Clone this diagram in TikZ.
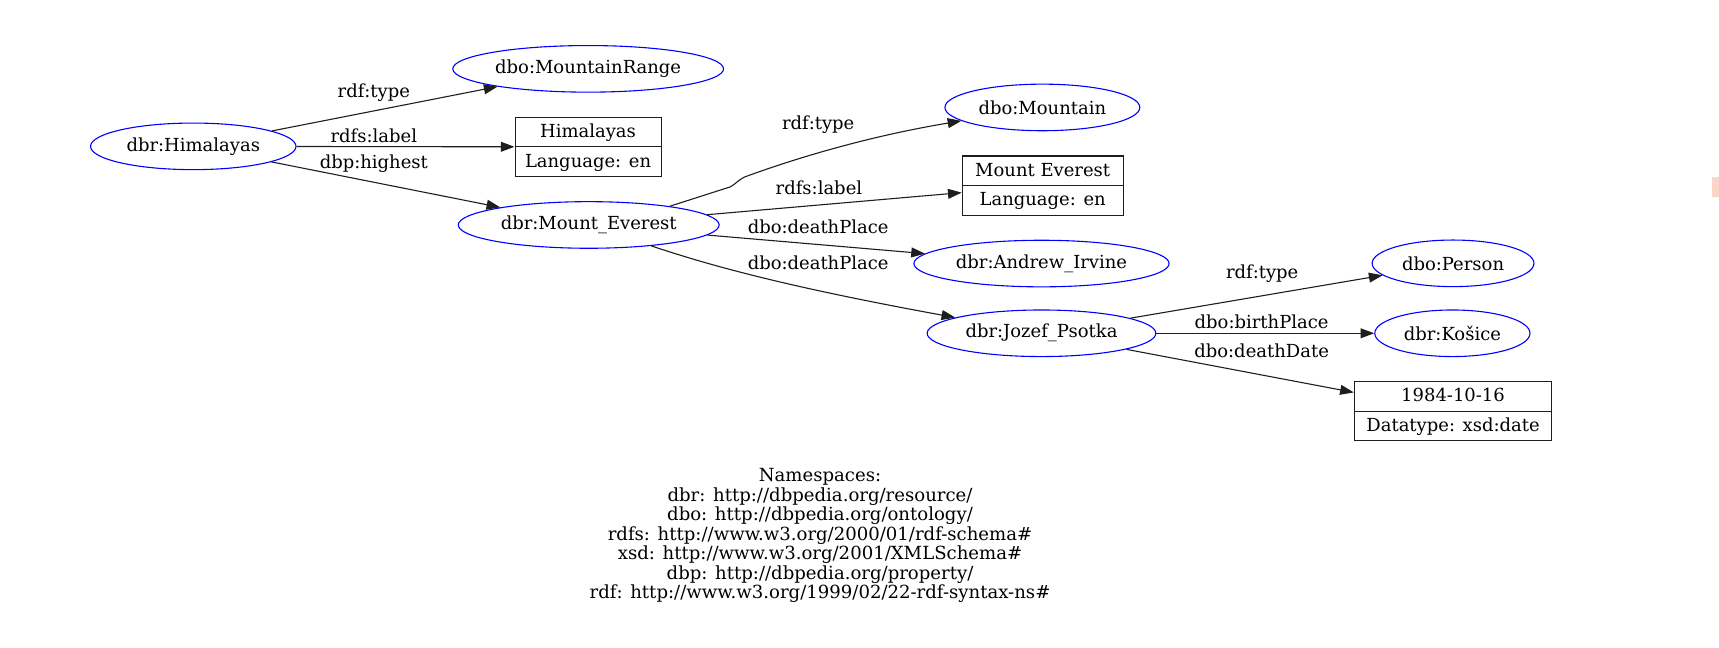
\documentclass[tikz,border=0pt]{standalone}
\usepackage{fontspec}
\setmainfont{DejaVu Serif}
\usetikzlibrary{arrows.meta,shapes.geometric}
\lineskiplimit=-50pt
\definecolor{rblue}{RGB}{0,0,255}
\definecolor{edgegray}{RGB}{30,30,30}
\definecolor{marker}{RGB}{250,214,200}
\begin{document}
\begin{tikzpicture}[x=1pt,y=-1pt,
  font=\fontsize{16.4}{14.8}\selectfont,
  res/.style={draw=rblue, line width=1pt, ellipse, inner sep=0pt, minimum height=42.5pt},
  litbox/.style={draw=edgegray, line width=1pt, rectangle, inner sep=0pt, minimum height=54pt},
  lit/.style={inner sep=0pt, text height=0.75em, text depth=0.24em, yshift=-2.5pt},
  elabel/.style={inner sep=0pt, text height=0.75em, text depth=0.24em, yshift=-3pt},
  rel/.style={draw=edgegray, line width=1pt, -{Triangle[length=12.5pt,width=9pt]}},
]
\useasboundingbox (0,0) rectangle (1568,591);
\fill[white] (0,0) rectangle (1568,591);

% resources
\node[res, minimum width=187.4pt] (hi) at (176.3,133.5) {dbr:Himalayas};
\node[res, minimum width=247pt] (mr) at (536.5,62.8) {dbo:MountainRange};
\node[res, minimum width=238pt] (ev) at (537,205.2) {dbr:Mount\_Everest};
\node[res, minimum width=177.8pt] (mt) at (950.8,98) {dbo:Mountain};
\node[res, minimum width=232.8pt] (ai) at (950,240.4) {dbr:Andrew\_Irvine};
\node[res, minimum width=208.6pt] (jp) at (950,304) {dbr:Jozef\_Psotka};
\node[res, minimum width=147.6pt] (pe) at (1325.4,240.2) {dbo:Person};
\node[res, minimum width=141.6pt] (ko) at (1324.8,304) {dbr:Košice};

% literal boxes
\node[litbox, minimum width=133.2pt] (hb) at (536.4,134) {};
\draw[draw=edgegray, line width=1pt] (hb.west) -- (hb.east);
\node[lit] (hb1) at (536.4,120.5) {Himalayas};
\node[lit] (hb2) at (536.4,147.5) {Language: en};

\node[litbox, minimum width=146.8pt] (mb) at (951.1,169.3) {};
\draw[draw=edgegray, line width=1pt] (mb.west) -- (mb.east);
\node[lit] (mb1) at (951.1,155.8) {Mount Everest};
\node[lit] (mb2) at (951.1,182.8) {Language: en};

\node[litbox, minimum width=180pt] (db) at (1325.4,375) {};
\draw[draw=edgegray, line width=1pt] (db.west) -- (db.east);
\node[lit] (db1) at (1325.4,361.5) {1984-10-16};
\node[lit] (db2) at (1325.4,388.5) {Datatype: xsd:date};

% edges
\draw[rel] (hi) -- (mr);
\draw[rel] (hi) -- (hb);
\draw[rel] (hi) -- (ev);
\draw[rel] (ev.13) -- (666,170.5) .. controls (671,168) and (673,164.5) .. (679,161.5) .. controls (735,141) and (800,123) .. (mt);
\draw[rel] (ev) -- (mb);
\draw[rel] (ev) -- (ai);
\draw[rel] (ev) .. controls (650,243) and (720,262) .. (jp);
\draw[rel] (jp) -- (pe);
\draw[rel] (jp) -- (ko);
\draw[rel] (jp) -- (db);

% edge labels
\node[elabel] (l1) at (341,83.6) {rdf:type};
\node[elabel] (l2) at (341,124) {rdfs:label};
\node[elabel] (l3) at (341,148) {dbp:highest};
\node[elabel] (l4) at (746.3,113) {rdf:type};
\node[elabel] (l5) at (747,171.7) {rdfs:label};
\node[elabel] (l6) at (746.3,207.6) {dbo:deathPlace};
\node[elabel] (l7) at (746.3,240.1) {dbo:deathPlace};
\node[elabel] (l8) at (1151.3,248.4) {rdf:type};
\node[elabel] (l9) at (1150.8,294.3) {dbo:birthPlace};
\node[elabel] (l10) at (1150.8,320.8) {dbo:deathDate};

% namespaces
\node[align=center, inner sep=0pt, font=\fontsize{16.5}{17.8}\selectfont] (ns) at (748,488.5) {Namespaces:\\dbr: http://dbpedia.org/resource/\\dbo: http://dbpedia.org/ontology/\\rdfs: http://www.w3.org/2000/01/rdf-schema\#\\xsd: http://www.w3.org/2001/XMLSchema\#\\dbp: http://dbpedia.org/property/\\rdf: http://www.w3.org/1999/02/22-rdf-syntax-ns\#};

% small mark at right edge
\fill[marker] (1562,161.4) rectangle (1568,179.7);
\end{tikzpicture}
\end{document}
